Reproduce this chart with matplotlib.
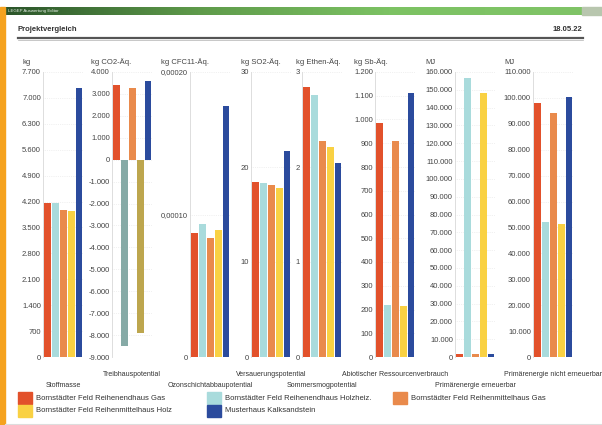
import numpy as np
import matplotlib.pyplot as plt
from matplotlib.patches import Rectangle
from matplotlib.colors import LinearSegmentedColormap
from matplotlib.ticker import FixedLocator, FuncFormatter

plt.rcParams['font.family'] = ['Liberation Sans', 'DejaVu Sans']

W, H = 602, 425

# variants compared
variants = [
    "Bornstädter Feld Reihenendhaus Gas",
    "Bornstädter Feld Reihenendhaus Holzheiz.",
    "Bornstädter Feld Reihenmittelhaus Gas",
    "Bornstädter Feld Reihenmittelhaus Holz",
    "Musterhaus Kalksandstein",
]
colors     = ["#e2512b", "#a9dbdc", "#e98a4c", "#f9d143", "#2b4b9d"]
neg_colors = ["#b04a30", "#86aaa6", "#c07a50", "#bda64e", "#2b4b9d"]

categories = [
    "Stoffmasse",
    "Treibhauspotential",
    "Ozonschichtabbaupotential",
    "Versauerungspotential",
    "Sommersmogpotential",
    "Abiotischer Ressourcenverbrauch",
    "Primärenergie erneuerbar",
    "Primärenergie nicht erneuerbar",
]
units = ["kg", "kg CO2-Äq.", "kg CFC11-Äq.", "kg SO2-Äq.",
         "kg Ethen-Äq.", "kg Sb-Äq.", "MJ", "MJ"]

stoffmasse  = [4150, 4150, 3980, 3950, 7270]
treibhaus   = [3400, -8500, 3250, -7900, 3600]
ozon        = [0.000087, 0.000093, 0.0000835, 0.000089, 0.000176]
versauerung = [18.4, 18.3, 18.1, 17.8, 21.7]
sommersmog  = [2.84, 2.76, 2.27, 2.21, 2.04]
abiotisch   = [985, 220, 910, 215, 1110]
pe_ern      = [1800, 156500, 1700, 148000, 1500]
pe_nicht    = [98200, 52000, 94300, 51400, 100400]

series = [stoffmasse, treibhaus, ozon, versauerung,
          sommersmog, abiotisch, pe_ern, pe_nicht]

# (min, max, step, decimals)
y_scales = [
    (0, 7700, 700, 0),
    (-9000, 4000, 1000, 0),
    (0, 0.0002, 0.0001, 5),
    (0, 30, 10, 0),
    (0, 3, 1, 0),
    (0, 1200, 100, 0),
    (0, 160000, 10000, 0),
    (0, 110000, 10000, 0),
]

# panel layout in pixels
axis_x = [43, 112, 190, 251, 302, 375, 455, 533]
panel_w = 40
top_px, bottom_px = 72, 357


def de_fmt(decimals):
    def f(v, pos):
        if abs(v) < 1e-12:
            return "0"
        s = f"{v:,.{decimals}f}"
        return s.replace(",", "#").replace(".", ",").replace("#", ".")
    return f


fig = plt.figure(figsize=(W / 100, H / 100), dpi=100)

# window frame
bg = fig.add_axes([0, 0, 1, 1], zorder=-1)
bg.set_xlim(0, W)
bg.set_ylim(H, 0)
bg.axis("off")
green = LinearSegmentedColormap.from_list("bar", ["#2b552a", "#5e9a4a", "#7cc263", "#80c467"])
bg.imshow(np.linspace(0, 1, 256)[None, :], extent=(5, 582, 15, 7),
          aspect="auto", cmap=green)
bg.add_patch(Rectangle((582, 7), 20, 8, color="#b8c6ae"))
bg.add_patch(Rectangle((0, 7), 5, H - 7, color="#f5a21f"))
bg.text(8, 11, "LEGEP Auswertung Editor", color="#e8f0e8", fontsize=3.2, va="center")
bg.text(18, 29, "Projektvergleich", fontsize=5.5, weight="bold", color="#333333", va="center")
bg.text(582, 29, "18.05.22", fontsize=5.5, weight="bold", color="#333333", va="center", ha="right")
bg.plot([18, 583], [38, 38], color="#555555", lw=1.6)
bg.plot([18, 583], [40, 40], color="#b0b0b0", lw=0.5)
bg.plot([5, 602], [423.5, 423.5], color="#dddddd", lw=0.8)

axes = []
for i, vals in enumerate(series):
    ax = fig.add_axes([axis_x[i] / W, 1 - bottom_px / H,
                       panel_w / W, (bottom_px - top_px) / H])
    lo, hi, step, dec = y_scales[i]
    bar_cols = [neg_colors[j] if v < 0 else colors[j] for j, v in enumerate(vals)]
    ax.bar(range(len(vals)), vals, width=0.85, color=bar_cols, zorder=2)
    ax.set_xlim(-0.6, 4.5)
    ax.set_ylim(lo, hi)
    ticks = np.arange(lo, hi + step / 2, step)
    ax.yaxis.set_major_locator(FixedLocator(ticks))
    ax.yaxis.set_major_formatter(FuncFormatter(de_fmt(dec)))
    ax.grid(axis="y", color="#e4e4e4", lw=0.5, ls=":", zorder=0)
    for side in ["top", "right", "bottom"]:
        ax.spines[side].set_visible(False)
    ax.spines["left"].set_color("#d8d8d8")
    ax.spines["left"].set_linewidth(0.6)
    ax.set_xticks([2])
    ax.set_xticklabels([categories[i]])
    ax.tick_params(axis="x", length=0, pad=10 if i % 2 else 18,
                   labelsize=5, labelcolor="#333333")
    ax.tick_params(axis="y", length=0, pad=1.5, labelsize=5.5, labelcolor="#444444")
    ax.patch.set_alpha(0)
    axes.append(ax)

# unit labels aligned with the top tick label of each axis
fig.canvas.draw()
for ax, unit in zip(axes, units):
    top_label = ax.get_yticklabels()[-1]
    bb = top_label.get_window_extent()
    fig.text(bb.x0 / W, 1 - 62 / H, unit, fontsize=5.5, color="#444444",
             ha="left", va="center")

# legend
legend_pos = [(18, 392), (207, 392), (393, 392), (18, 405), (207, 405)]
for (x, y), name, c in zip(legend_pos, variants, colors):
    bg.add_patch(Rectangle((x, y), 14, 12, color=c))
    bg.text(x + 18, y + 6, name, fontsize=5.5, color="#333333", va="center")

fig.savefig("out.png", dpi=100)
